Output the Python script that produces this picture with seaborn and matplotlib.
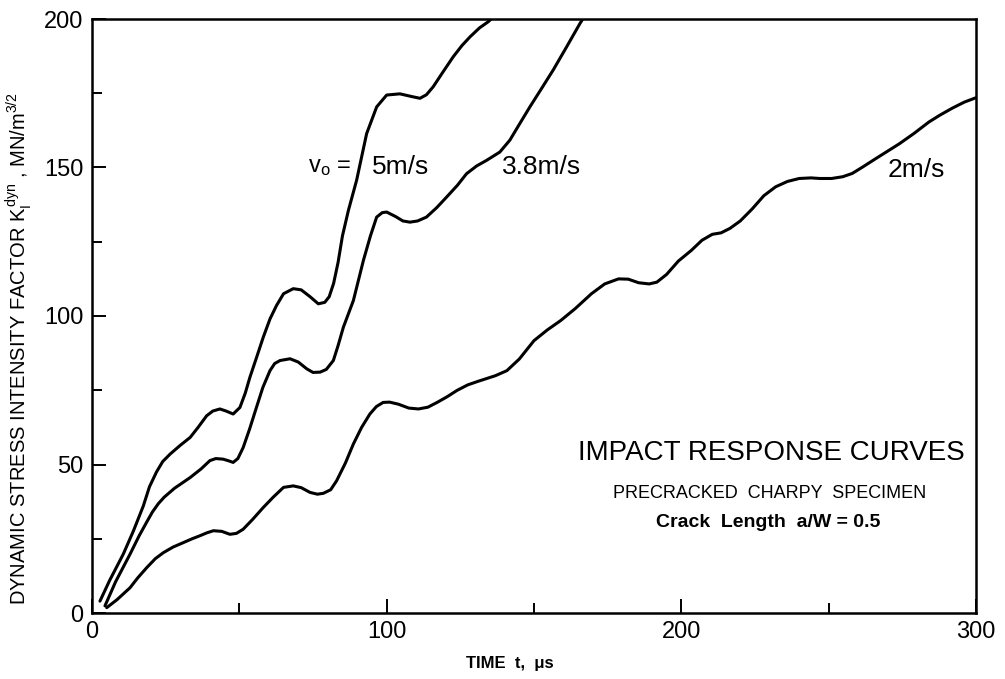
import matplotlib
matplotlib.use("Agg")
import matplotlib.pyplot as plt
from matplotlib.ticker import MultipleLocator
import numpy as np
import pandas as pd
import seaborn as sns

# Time (microseconds) and dynamic stress intensity factor (MN/m^3/2) per impact speed
t_5 = [2.7, 6, 10.6, 14, 17.4, 19.5, 21.9, 24, 26.5, 30, 33.3, 36, 38.9, 41, 43.4,
       45.5, 47.9, 50.2, 52, 53.6, 56, 58.1, 60.4, 62.6, 65, 68.3, 71, 74, 76.8, 79,
       80.5, 82, 83.5, 85, 87, 89.8, 93.2, 96.6, 100, 104.5, 108, 111.3, 113.5, 115.8,
       119, 122.6, 125.5, 128.3, 131.5, 134.5, 136]
k_5 = [4, 11, 19.8, 27.5, 36, 42.5, 47.5, 51, 53.5, 56.5, 59.1, 62.5, 66.4, 68, 68.7,
       68, 67, 69.2, 74, 79.4, 86.5, 92.8, 99, 103.5, 107.5, 109.2, 108.8, 106.5,
       104.1, 104.6, 106.5, 111, 118, 127, 135.5, 145.7, 161.4, 170.4, 174.4, 174.8,
       174, 173.3, 174.5, 177.2, 182, 187.3, 191, 194, 197, 199.1, 200.5]

t_38 = [4.4, 8, 12.9, 16, 18.5, 20.5, 22.5, 24.5, 28, 33.3, 37, 40, 42, 44.5, 46.5,
        47.9, 49.5, 51.3, 53.5, 55.8, 58, 60.4, 62, 63.8, 67.2, 70, 72.9, 75, 77.4,
        79.5, 81.9, 83.5, 85.3, 88.7, 92.1, 94.5, 96.6, 98.5, 100, 103, 105.5, 107.9,
        110.5, 113.5, 117, 120.3, 124, 127.1, 130.5, 133.9, 138.4, 141.8, 145, 148.6,
        152.5, 156.5, 161, 165.6, 167.5]
k_38 = [2.4, 10.5, 19.8, 26, 30.5, 34, 36.8, 39, 42, 45.6, 48.5, 51.3, 52, 51.8, 51.2,
        50.7, 52, 55.7, 62, 69.2, 76, 81.6, 84, 85, 85.6, 84.5, 82.2, 81, 81.1, 82, 85,
        90, 96.2, 105.2, 118.7, 127, 133.3, 134.8, 135, 133.5, 132, 131.6, 132, 133.3,
        136.5, 140, 144, 147.9, 150.5, 152.4, 155.2, 159.2, 164.5, 170.4, 176.5, 182.8,
        190.5, 198.5, 201.5]

t_2 = [5, 8.5, 12.9, 15.5, 18.6, 21.5, 24.2, 27.5, 31, 34, 36.6, 39, 41.2, 44, 46.8,
       49, 51.3, 54.5, 58.1, 61.5, 65, 68.3, 71, 74, 76.5, 78.5, 81, 83, 86, 88.7,
       91.5, 94.3, 96.5, 98.8, 101, 104, 107.5, 110.8, 114, 117.3, 120.5, 123.8, 127.5,
       131, 136.9, 140.8, 145, 150, 154.5, 159.1, 164, 169.5, 174, 178.7, 182, 185.5,
       189.1, 191.7, 195, 199, 203.4, 207, 210.5, 213.5, 216.5, 220, 224, 228, 232,
       236, 240, 244, 247, 251, 254.8, 258, 261.6, 266, 270, 274, 279, 284, 287.7,
       292, 296, 300]
k_2 = [1.8, 4.5, 8.5, 11.8, 15.3, 18.3, 20.3, 22.2, 23.7, 25, 26, 27, 27.7, 27.5, 26.5,
       26.8, 28.2, 31.5, 35.5, 39, 42.3, 42.8, 42.2, 40.6, 40, 40.3, 41.5, 44.5, 50.5,
       56.9, 62.5, 67, 69.5, 70.9, 71, 70.3, 69, 68.7, 69.3, 71, 72.8, 74.9, 76.8, 78,
       79.9, 81.6, 85.5, 91.7, 95.3, 98.5, 102.5, 107.5, 110.8, 112.5, 112.4, 111.2,
       110.8, 111.4, 114, 118.5, 122.1, 125.5, 127.5, 128, 129.5, 132, 136, 140.5,
       143.5, 145.3, 146.3, 146.5, 146.3, 146.3, 146.9, 148, 150.2, 153, 155.5, 158,
       161.5, 165.3, 167.6, 170, 172, 173.5]

speed_labels = ["5m/s", "3.8m/s", "2m/s"]
x_ticks = [0, 100, 200, 300]
y_ticks = [0, 50, 100, 150, 200]

df = pd.concat([
    pd.DataFrame({"t": t_5, "K": k_5, "speed": speed_labels[0]}),
    pd.DataFrame({"t": t_38, "K": k_38, "speed": speed_labels[1]}),
    pd.DataFrame({"t": t_2, "K": k_2, "speed": speed_labels[2]}),
])

sns.set_style("ticks")
plain = ["Liberation Sans", "DejaVu Sans"]
plt.rcParams["font.family"] = plain
plt.rcParams["mathtext.fontset"] = "custom"
plt.rcParams["mathtext.rm"] = "Liberation Sans"
plt.rcParams["mathtext.it"] = "Liberation Sans"
for key in ("text.color", "axes.labelcolor", "xtick.color", "ytick.color",
            "axes.edgecolor"):
    plt.rcParams[key] = "black"

fig = plt.figure(figsize=(10.05, 6.79), dpi=100)
ax = fig.add_axes([92 / 1005, 1 - 613 / 679, (976 - 92) / 1005, (613 - 19) / 679])

sns.lineplot(data=df, x="t", y="K", units="speed", estimator=None, sort=False,
             color="black", linewidth=2.2, ax=ax, legend=False)

ax.set_xlim(0, 300)
ax.set_ylim(0, 200)
ax.set_xticks(x_ticks)
ax.set_yticks(y_ticks)
ax.xaxis.set_minor_locator(MultipleLocator(50))
ax.yaxis.set_minor_locator(MultipleLocator(25))
ax.tick_params(which="major", direction="in", length=10, width=1.4,
               labelsize=17, pad=6, top=False, right=False)
ax.tick_params(which="minor", direction="in", length=7, width=1.4,
               top=False, right=False)
for sp in ax.spines.values():
    sp.set_visible(True)
    sp.set_linewidth(1.8)
    sp.set_color("black")

ax.set_xlabel("TIME  t,  \u03bcs", fontsize=12, fontweight="bold")
ax.xaxis.set_label_coords(0.473, -0.072)
ax.set_ylabel(r"DYNAMIC STRESS INTENSITY FACTOR $K_\mathrm{I}^{dyn}$ , MN/m$^{3/2}$",
              fontsize=14.5)
ax.yaxis.set_label_coords(-0.066, 0.445)

# Curve labels
ax.text(73.3, 150, r"v$_o$ =", fontsize=17, va="center", ha="left")
ax.text(95, 150, speed_labels[0], fontsize=19, va="center", ha="left")
ax.text(139, 150, speed_labels[1], fontsize=19, va="center", ha="left")
ax.text(270, 149, speed_labels[2], fontsize=19, va="center", ha="left")

# Annotation block
ax.text(230.5, 54, "IMPACT RESPONSE CURVES", fontsize=20, ha="center", va="center")
ax.text(230, 40.2, "PRECRACKED  CHARPY  SPECIMEN", fontsize=13, ha="center",
        va="center")
ax.text(229.5, 30.4, "Crack  Length  a/W = 0.5", fontsize=14, fontweight="bold",
        ha="center", va="center")

fig.savefig("out.png", dpi=100, facecolor="white")
